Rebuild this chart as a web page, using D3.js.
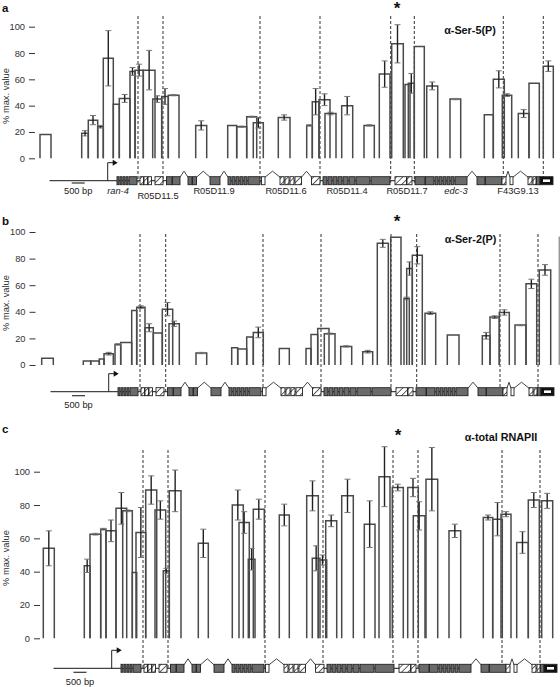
<!DOCTYPE html>
<html><head><meta charset="utf-8">
<script src="https://cdn.jsdelivr.net/npm/d3@7"></script>
<style>body{margin:0;background:#fff}svg{display:block}text{font-family:"Liberation Sans",Arial,sans-serif}</style>
</head><body><svg id="c" width="560" height="687"></svg>
<script>
// ---------- DATA (positions in probe-coordinate units, values in % max) ----------
const yTicks = [0, 20, 40, 60, 80, 100];
const yLabel = "% max. value";
const panelLetters = ["a", "b", "c"];
const panelTitles = ["α-Ser-5(P)", "α-Ser-2(P)", "α-total RNAPII"];

// Panel a : α-Ser-5(P)
const aStart = [0,41.7,48.3,57.7,63.3,73.3,79.3,90,95,103.3,112.7,121.7,128.3,155.7,187.7,196.7,206.7,213.3,238.3,266.7,272.3,279,285,301.7,324,339.3,351.7,365,368.3,374.3,386.7,410,444.3,453.3,462.3,478.3,489,503.3];
const aEnd   = [11,48.3,57.7,63.3,73.3,79.3,90,95,103.3,115,121.7,128.3,139,166.7,196.7,206.7,216.7,223.3,250,272.3,279,290,296,312.7,334.3,350,363.3,370,374.3,384.3,397.7,420.7,453.3,464.3,471.7,489,499.3,513.3];
const aVal   = [18,19,29,24,76,41,45.5,66,67,67,45,47,48,25,25,24,31.5,27,31,25,43,44.5,34,40,25,64,87,56,57,85,55,45,33,60,48,34,57,70];
const aErr   = [0,2,3.5,1,21,0,3,3,4.5,15,2.5,6,0.5,3.5,0,0.5,0.5,4,2,0.5,10,4.5,1,7,0.5,10,14.5,0,7.5,0,3,0.5,0,6.5,1,3,0,4];
const aDash  = [98,123,220,280,350.7,374.3,463.3,503.3];

// Panel b : α-Ser-2(P)
const bStart = [1.7,43.3,50.7,59.3,64,75,80.7,91.7,96.7,105,113.3,122.3,129,156,191.7,197.7,206.7,213.3,239.3,266,271,277.7,284.3,300.7,322.7,337.3,350.7,364,366.7,372.3,385,407.3,442.3,450,459.3,475,486,499.3,519.3];
const bEnd   = [13.3,50.7,59.3,64,73.3,80.7,91.7,96.7,105,113.3,122.3,132.7,139.3,166.7,197.7,206.7,213.3,223.3,249.3,271,277.7,289,295,311.7,332.7,348.3,361,369.3,372.3,382.3,395.7,419,450,459.3,469.3,486,496.7,510.7,527];
const bVal   = [5,3,3,4.5,8.5,15.5,17,41,43.5,28,24,42,31,9,13,12,21,24.5,12.5,12.5,23,27.5,23.5,14,10,91.5,96,50,72.5,82.5,39,22.5,22,36,39.5,30,61,71.5,96];
const bErr   = [0,0,0,0,1,0.5,0,0,1,3,0,5,2,0.5,0,0,0,4,0,0,0,0,0.5,0.5,1,3,0,1,5,6.5,1,0,2.5,1,2,0.5,3.5,4,0];
const bDash  = [100,125.7,223,281,351,376.7,460,498];

// Panel c : α-total RNAPII
const cStart = [3.3,44.3,50,60.7,66,76,82.7,92.3,96,105.7,115,123.3,129.3,158.3,192.3,199,208.3,213.3,239.3,266.7,272.3,278.3,285.7,301.7,324.3,339,352.3,367.7,373.3,386,409,443.3,452.7,461,476.7,488.3,501.7];
const cEnd   = [14.3,50,60.7,66,76,86.7,92.3,96.7,105.7,116.7,125.7,129.3,141,168.3,203.3,209.3,215,224.3,249.3,278.3,280,286.7,296.7,313.3,335,350,363.3,378.3,385,397.7,420.7,452.7,462.3,471,488.3,499.3,512.7];
const cVal   = [54,43.5,62.5,65.5,64.5,78,76.5,39.5,63.5,89,77,40.5,88.5,57,80,69.5,47.5,77.5,74,85.5,48,47,70.5,85.5,68.5,97,90.5,90.5,73.5,95.5,64.5,72.5,71.5,74.5,57.5,83,82.5];
const cErr   = [10.5,4,0.5,0.5,6.5,9.5,0.5,0,15,8.5,5.5,1.5,12.5,8.5,9,6.5,6.5,6,6.5,9,7.5,3,3.5,10,14,18,2,5.5,8.5,19,4,1.5,10,1.5,6.5,4.5,4.5];
const cDash  = [103,128,225,283,353,378,462,500];

// Gene model (exons: start, end, kind g=coding grey, h=hatched, w=open, k=black)
const exonStart = [77,80,83,86,89,100,104,108,115,126.5,132.5,148,152.5,170,188,192,196,200,204,208,221.5,240,245,250,255,271.5,283,288,293,298,303,309,316,331,355,367,375,385.5,395,399,403,407,411,415,437,445.5,462,470,488,493,496.5,500];
const exonEnd   = [79,82,85,88,97,103.5,107.5,111.5,123,132,140,152,156.5,180,191,195,199,203,207,220,225,244,249,254,261.5,280,287,292,297,302,308,315,330,350,366.5,372,385,394,398,402,406,410,414,427,445,462,466,473,492,496,500,513];
const exonKind  = ["g","g","g","g","g","h","h","h","h","g","g","g","g","g","g","g","g","g","g","g","w","h","h","h","h","h","g","g","g","g","g","g","g","g","h","h","g","g","g","g","g","g","g","g","g","g","h","w","h","h","g","k"];
const intronCaret = [[140,148],[156.5,170],[180,188],[225,240],[261.5,271.5],[427,437],[466,470],[473,488]];
const geneSpan = [9.5, 513];
const tssPos = 67.7;
const geneNames = ["ran-4","R05D11.5","R05D11.9","R05D11.6","R05D11.4","R05D11.7","edc-3","F43G9.13"];
const geneNamePos = [78,118,174,246,307,367,416,478];
const geneItalic = [true,false,false,false,false,false,true,false];
const scaleBarBp = 500, scaleBarUnits = 13;

// ---------- LAYOUT ----------
const svg = d3.select("#c");
const x = d3.scaleLinear().domain([0, 520]).range([40, 560]);

const panels = [
  {start:aStart,end:aEnd,val:aVal,err:aErr,dash:aDash, yBot:158.3,yTop:26.7, axisX:35, geneY:180.7, gdx:0, dashTop:16,
   letterY:11.7, starY:13.5, starX:397, titleX:470, titleY:34, labelMid:96, sbY:183, sbX:71.7, sbTextY:194, names:true},
  {start:bStart,end:bEnd,val:bVal,err:bErr,dash:bDash, yBot:365,yTop:232, axisX:35.5, geneY:391.7, gdx:1, dashTop:234,
   letterY:225, starY:226.5, starX:397, titleX:470.5, titleY:243, labelMid:303, sbY:395.7, sbX:72, sbTextY:408, names:false},
  {start:cStart,end:cEnd,val:cVal,err:cErr,dash:cDash, yBot:638.3,yTop:471.7, axisX:40, geneY:668.3, gdx:4, dashTop:450,
   letterY:433, starY:441, starX:398, titleX:501, titleY:441, labelMid:558, sbY:672.3, sbX:73.5, sbTextY:685, names:false}
];

const defs = svg.append("defs");
const pat = defs.append("pattern").attr("id","hatch").attr("patternUnits","userSpaceOnUse")
  .attr("width",4.5).attr("height",4.5).attr("patternTransform","rotate(45)");
pat.append("rect").attr("width",4.5).attr("height",4.5).attr("fill","#fff");
pat.append("line").attr("x1",0).attr("y1",0).attr("x2",0).attr("y2",4.5).attr("stroke","#222").attr("stroke-width",1.4);

const fillOf = k => k==="g" ? "#6b6b6b" : k==="h" ? "url(#hatch)" : k==="k" ? "#111" : "#fff";

panels.forEach((p, i) => {
  const g = svg.append("g");
  const y = d3.scaleLinear().domain([0, 100]).range([p.yBot, p.yTop]);

  const ax = g.append("g").attr("transform", `translate(${p.axisX},0)`)
    .call(d3.axisLeft(y).tickValues(yTicks).tickSize(6).tickPadding(4));
  ax.select(".domain").remove();
  ax.selectAll("line").attr("stroke","#333").attr("stroke-width",1);
  ax.selectAll("text").attr("fill","#333").style("font-size","9.3px").style("font-family",'"Liberation Sans",Arial,sans-serif');

  g.append("text").attr("transform",`translate(8.5,${p.labelMid}) rotate(-90)`)
    .attr("text-anchor","middle").attr("fill","#333").style("font-size","9.3px").text(yLabel);

  g.append("text").attr("x",2).attr("y",p.letterY).attr("font-weight","bold").style("font-size","11.5px").attr("fill","#111").text(panelLetters[i]);
  g.append("text").attr("x",p.starX).attr("y",p.starY).attr("text-anchor","middle").attr("font-weight","bold").style("font-size","17px").attr("fill","#111").text("*");
  g.append("text").attr("x",p.titleX).attr("y",p.titleY).attr("text-anchor","middle").attr("font-weight","bold").style("font-size","10.8px").attr("fill","#111").text(panelTitles[i]);

  g.selectAll("line.dash").data(p.dash).join("line").attr("class","dash")
    .attr("x1",d=>x(d)).attr("x2",d=>x(d)).attr("y1",p.dashTop).attr("y2",p.geneY+2)
    .attr("stroke","#333").attr("stroke-width",1).attr("stroke-dasharray","3,2");

  const idx = d3.range(p.val.length);
  g.selectAll("path.bar").data(idx).join("path").attr("class","bar")
    .attr("d", k => `M${x(p.start[k])},${y(0)}V${y(p.val[k])}H${x(p.end[k])}V${y(0)}`)
    .attr("fill","none").attr("stroke", k => x(p.start[k]) > 555 ? "#999" : "#4a4a4a").attr("stroke-width",1.5);

  const eb = idx.filter(k => p.err[k] > 0);
  const cx = k => (x(p.start[k]) + x(p.end[k])) / 2;
  g.selectAll("line.eb").data(eb).join("line").attr("class","eb")
    .attr("x1",cx).attr("x2",cx).attr("y1",k=>y(p.val[k]+p.err[k])).attr("y2",k=>y(p.val[k]-p.err[k]))
    .attr("stroke","#222").attr("stroke-width",1.4);
  [["capU",1],["capD",-1]].forEach(([cls, s]) => {
    g.selectAll("line."+cls).data(eb).join("line").attr("class",cls)
      .attr("x1",k=>cx(k)-3).attr("x2",k=>cx(k)+3)
      .attr("y1",k=>y(p.val[k]+s*p.err[k])).attr("y2",k=>y(p.val[k]+s*p.err[k]))
      .attr("stroke","#777").attr("stroke-width",1);
  });

  const gm = g.append("g").attr("transform",`translate(${p.gdx},0)`);
  const gy = p.geneY;
  const segs = [];
  let cur = geneSpan[0];
  intronCaret.forEach(c => { segs.push([cur, c[0]]); cur = c[1]; });
  segs.push([cur, geneSpan[1]]);
  gm.selectAll("line.bb").data(segs).join("line").attr("class","bb")
    .attr("x1",d=>x(d[0])).attr("x2",d=>x(d[1])).attr("y1",gy).attr("y2",gy)
    .attr("stroke","#444").attr("stroke-width",1.2);
  gm.selectAll("path.caret").data(intronCaret).join("path").attr("class","caret")
    .attr("d",d=>`M${x(d[0])},${gy-3.5}L${(x(d[0])+x(d[1]))/2},${gy-9.5}L${x(d[1])},${gy-3.5}`)
    .attr("fill","none").attr("stroke","#444").attr("stroke-width",1);
  gm.selectAll("rect.ex").data(d3.range(exonStart.length)).join("rect").attr("class","ex")
    .attr("x",k=>x(exonStart[k])).attr("width",k=>x(exonEnd[k])-x(exonStart[k]))
    .attr("y",gy-4).attr("height",8)
    .attr("fill",k=>fillOf(exonKind[k])).attr("stroke","#222").attr("stroke-width",0.9);
  const kb = exonKind.indexOf("k");
  gm.append("rect").attr("x",x(exonStart[kb])+3).attr("width",x(exonEnd[kb])-x(exonStart[kb])-6)
    .attr("y",gy-1.3).attr("height",2.6).attr("fill","#fff");
  gm.append("path").attr("d",`M${x(tssPos)},${gy}V${gy-18}H${x(tssPos)+6}`)
    .attr("fill","none").attr("stroke","#222").attr("stroke-width",1);
  gm.append("path").attr("d",`M${x(tssPos)+5},${gy-21}L${x(tssPos)+10},${gy-18}L${x(tssPos)+5},${gy-15}Z`).attr("fill","#111");

  g.append("line").attr("x1",p.sbX).attr("x2",p.sbX + (x(scaleBarUnits)-x(0))).attr("y1",p.sbY).attr("y2",p.sbY)
    .attr("stroke","#333").attr("stroke-width",1.2);
  g.append("text").attr("x",p.sbX+6.5).attr("y",p.sbTextY).attr("text-anchor","middle").attr("fill","#222")
    .style("font-size","9.3px").text(scaleBarBp + " bp");

  if (p.names) {
    g.selectAll("text.gn").data(geneNames).join("text").attr("class","gn")
      .attr("x",(d,k)=>x(geneNamePos[k])).attr("y",(d,k)=>k===1?199:194)
      .attr("text-anchor","middle").attr("fill","#222").style("font-size","9.3px")
      .style("font-style",(d,k)=>geneItalic[k]?"italic":"normal").text(d=>d);
  }
});
</script></body></html>
